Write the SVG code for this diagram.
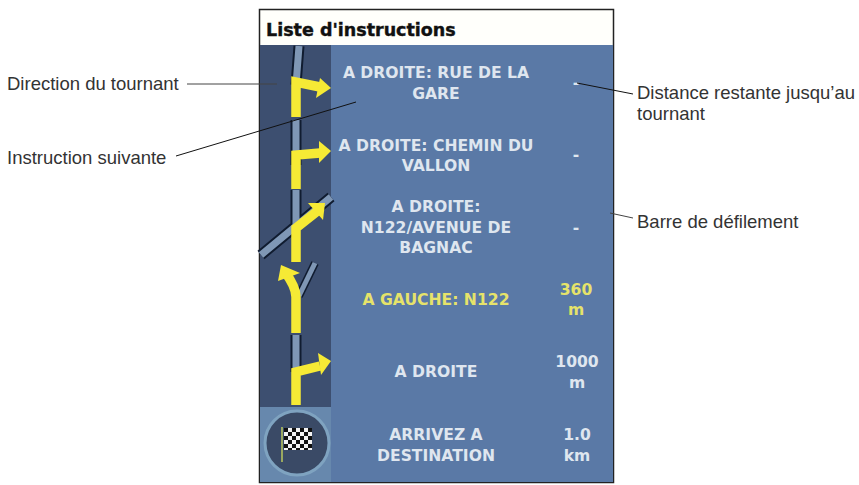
<svg xmlns="http://www.w3.org/2000/svg" width="859" height="485" viewBox="0 0 859 485">
<style>
.lab{font:18.500px "Liberation Sans",Arial,sans-serif;fill:#333}
.ins{font:bold 15.600px "DejaVu Sans",sans-serif;fill:#dfe6ef;text-anchor:middle}
.y{fill:#e6e36a}
.road{fill:none;stroke:#7f97b5;stroke-width:7}
.edge{fill:none;stroke:#101c30;stroke-width:11}
.arr{fill:none;stroke:#f6ea35;stroke-width:9.500}
.head{fill:#f6ea35}
.lead{fill:none;stroke:#444;stroke-width:1}
</style>
<defs>
<pattern id="chk" x="284" y="428" width="8" height="8" patternUnits="userSpaceOnUse">
<rect width="8" height="8" fill="#f2f2f2"/><rect width="4" height="4" fill="#111"/><rect x="4" y="4" width="4" height="4" fill="#111"/>
</pattern>
</defs>
<rect width="859" height="485" fill="#fff"/>
<g id="panel">
<rect x="259.500" y="9.500" width="354" height="473" fill="#fffffb" stroke="#222" stroke-width="1.500"/>
<rect x="260" y="45" width="353" height="437" fill="#5a79a6"/>
<rect x="260" y="45" width="71" height="362" fill="#3d4f70"/>
<rect x="260" y="407" width="71" height="75" fill="#6788ad"/>
<text x="266" y="36" style="font:bold 17.500px 'DejaVu Sans',sans-serif;fill:#111;stroke:#111;stroke-width:.4">Liste d'instructions</text>
</g>
<g id="roads">
<path class="edge" d="M299 46L296 85M296 120V165"/>
<path class="road" d="M299 46L296 85M296 120V165"/>
<path class="edge" d="M296 190V225M261 255L331 197"/>
<path class="road" d="M296 190V225M261 255L331 197"/>
<path class="edge" d="M315 263L299 296" style="stroke-width:8"/>
<path class="road" d="M315 263L299 296" style="stroke-width:5"/>
<path class="edge" d="M296 335V372"/>
<path class="road" d="M296 335V372"/>
</g>
<g id="arrow-1"><path class="arr" d="M296 117V82L320 87"/><path class="head" d="M320 78L331 88L316 98Z"/></g>
<g id="arrow-2"><path class="arr" d="M296 189V155L320 153"/><path class="head" d="M319 141L331 151L319 163Z"/></g>
<g id="arrow-3"><path class="arr" d="M296 262V228L320 209"/><path class="head" d="M308 203L325 203L323 220Z"/></g>
<g id="arrow-4"><path class="arr" d="M296 333V297Q296 287 285 272"/><path class="head" d="M278 281L281 265L300 273Z"/></g>
<g id="arrow-5"><path class="arr" d="M296 405V372L320 366"/><path class="head" d="M318 353L331 361L321 375Z"/></g>
<g id="flag">
<circle cx="297" cy="443" r="32" fill="#3a4a66" stroke="#7fa3c0" stroke-width="3"/>
<path d="M282 427V462" stroke="#9aa860" stroke-width="2"/>
<rect x="284" y="428" width="28" height="22" fill="url(#chk)"/>
</g>
<g id="instructions">
<text class="ins" x="436" y="78">A DROITE: RUE DE LA</text><text class="ins" x="436" y="99">GARE</text>
<text class="ins" x="436" y="151">A DROITE: CHEMIN DU</text><text class="ins" x="436" y="171">VALLON</text>
<text class="ins" x="436" y="212">A DROITE:</text><text class="ins" x="436" y="233">N122/AVENUE DE</text><text class="ins" x="436" y="253">BAGNAC</text>
<text class="ins y" x="436" y="305">A GAUCHE: N122</text>
<text class="ins" x="436" y="377">A DROITE</text>
<text class="ins" x="436" y="440">ARRIVEZ A</text><text class="ins" x="436" y="461">DESTINATION</text>
<text class="ins" x="576" y="88">-</text><text class="ins" x="576" y="160">-</text><text class="ins" x="576" y="233">-</text>
<text class="ins y" x="576" y="295">360</text><text class="ins y" x="576" y="315">m</text>
<text class="ins" x="577" y="367">1000</text><text class="ins" x="577" y="388">m</text>
<text class="ins" x="577" y="440">1.0</text><text class="ins" x="577" y="461">km</text>
</g>
<g id="connectors">
<path class="lead" d="M187 84H277"/>
<path class="lead" style="stroke:#111" d="M176 156L356 102"/>
<path class="lead" style="stroke:#111" d="M577 83L633 94"/>
<path class="lead" d="M610 213L633 218"/>
</g>
<g id="labels">
<text class="lab" x="7" y="90">Direction du tournant</text>
<text class="lab" x="7" y="164">Instruction suivante</text>
<text class="lab" x="637" y="99">Distance restante jusqu’au</text>
<text class="lab" x="637" y="120">tournant</text>
<text class="lab" x="637" y="228">Barre de défilement</text>
</g>
</svg>
